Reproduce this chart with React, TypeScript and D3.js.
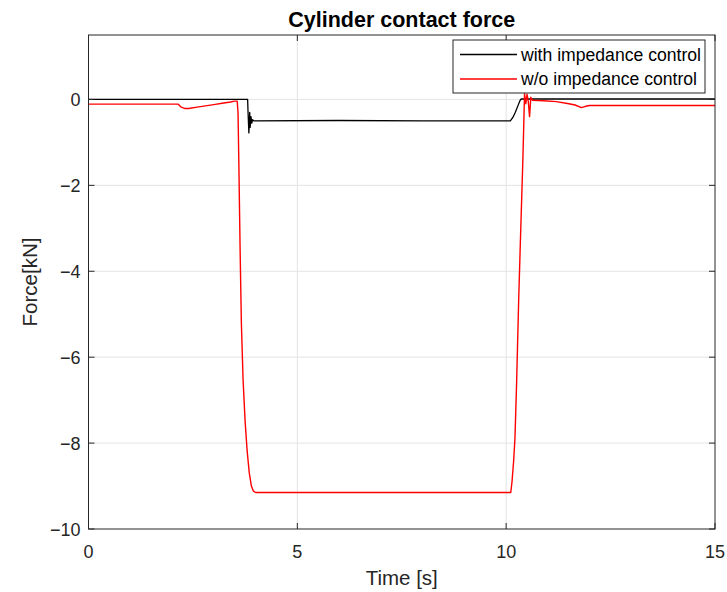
import React from "react";
import * as d3 from "d3";

// Cylinder contact force, with and without impedance control
const withTime = [0, 3.81, 3.82, 3.84, 3.86, 3.87, 3.89, 3.91, 3.93, 3.96, 6.0, 8.0, 10.1, 10.16, 10.22, 10.28, 10.33, 10.36, 12.0, 15];
const withForce = [0, 0, -0.3, -0.78, -0.3, -0.65, -0.4, -0.55, -0.47, -0.5, -0.49, -0.5, -0.5, -0.42, -0.3, -0.15, -0.03, 0.01, 0.01, 0.01];

const woTime = [
  0, 2.15, 2.22, 2.3, 2.4, 2.6, 2.8, 3.0, 3.2, 3.4, 3.5, 3.56, 3.58, 3.6, 3.63, 3.66, 3.7, 3.75, 3.8, 3.85, 3.9,
  3.95, 4.0, 7.0, 10.11, 10.14, 10.18, 10.21, 10.25, 10.3, 10.35, 10.4, 10.44, 10.47, 10.5, 10.53, 10.56, 10.59,
  10.63, 10.9, 11.2, 11.5, 11.65, 11.8, 11.9, 12.0, 13.0, 15,
];
const woForce = [
  -0.11, -0.11, -0.18, -0.21, -0.21, -0.18, -0.15, -0.12, -0.09, -0.06, -0.04, -0.04, -0.3, -1.5, -3.5, -5.2, -6.5,
  -7.5, -8.2, -8.7, -9.0, -9.12, -9.15, -9.15, -9.15, -8.9, -8.4, -7.9, -6.6, -4.65, -3.0, -1.4, 0.14, -0.1, 0.12,
  -0.05, -0.4, 0.05, -0.02, -0.03, -0.05, -0.1, -0.13, -0.19, -0.16, -0.14, -0.14, -0.14,
];

const xTicks = [0, 5, 10, 15];
const yTicks = [0, -2, -4, -6, -8, -10];

const seriesNames = ["with impedance control", "w/o impedance control"];
const seriesColors = ["#000000", "#ff0000"];

const W = 727;
const H = 592;
const M = { left: 88.5, right: 715, top: 35, bottom: 529 };
const FONT = "'Liberation Sans', Arial, Helvetica, sans-serif";
const AXIS = "#262626";

export default function App() {
  const x = d3.scaleLinear().domain([0, 15]).range([M.left, M.right]);
  const y = d3.scaleLinear().domain([-10, 1.5]).range([M.bottom, M.top]);

  const line = d3
    .line<[number, number]>()
    .x((d) => x(d[0]))
    .y((d) => y(d[1]));

  const withPts = withTime.map((t, i) => [t, withForce[i]] as [number, number]);
  const woPts = woTime.map((t, i) => [t, woForce[i]] as [number, number]);

  const tickLen = 6;
  const fmt = (v: number) => (v < 0 ? "\u2212" + Math.abs(v) : String(v));

  const legX = 453;
  const legY = 40;
  const legW = 252;
  const legH = 53;

  return (
    <svg
      width={W}
      height={H}
      style={{ position: "absolute", left: 0, top: 0, display: "block", background: "#fff" }}
      fontFamily={FONT}
    >
      <rect x={0} y={0} width={W} height={H} fill="#fff" />
      {/* grid */}
      <g stroke="#e3e3e3" strokeWidth={1}>
        {xTicks.slice(1, -1).map((t) => (
          <line key={"gx" + t} x1={x(t)} x2={x(t)} y1={M.top} y2={M.bottom} />
        ))}
        {yTicks.slice(0, -1).map((t) => (
          <line key={"gy" + t} x1={M.left} x2={M.right} y1={y(t)} y2={y(t)} />
        ))}
      </g>

      {/* data */}
      <g fill="none" strokeLinejoin="round">
        <path d={line(withPts) ?? ""} stroke={seriesColors[0]} strokeWidth={1.3} />
        <path d={line(woPts) ?? ""} stroke={seriesColors[1]} strokeWidth={1.4} />
      </g>

      {/* axes box and ticks */}
      <rect
        x={M.left}
        y={M.top}
        width={M.right - M.left}
        height={M.bottom - M.top}
        fill="none"
        stroke={AXIS}
        strokeWidth={1}
      />
      <g stroke={AXIS} strokeWidth={1}>
        {xTicks.map((t) => (
          <g key={"xt" + t}>
            <line x1={x(t)} x2={x(t)} y1={M.bottom} y2={M.bottom - tickLen} />
            <line x1={x(t)} x2={x(t)} y1={M.top} y2={M.top + tickLen} />
          </g>
        ))}
        {yTicks.map((t) => (
          <g key={"yt" + t}>
            <line x1={M.left} x2={M.left + tickLen} y1={y(t)} y2={y(t)} />
            <line x1={M.right} x2={M.right - tickLen} y1={y(t)} y2={y(t)} />
          </g>
        ))}
      </g>
      <g fontSize={18} fill={AXIS}>
        {xTicks.map((t) => (
          <text key={"xl" + t} x={x(t)} y={M.bottom + 29} textAnchor="middle">
            {fmt(t)}
          </text>
        ))}
        {yTicks.map((t) => (
          <text key={"yl" + t} x={M.left - 8} y={y(t) + 7} textAnchor="end">
            {fmt(t)}
          </text>
        ))}
      </g>

      {/* labels */}
      <text x={(M.left + M.right) / 2} y={27} textAnchor="middle" fontSize={21.5} fontWeight="bold" fill="#000">
        Cylinder contact force
      </text>
      <text x={(M.left + M.right) / 2} y={585} textAnchor="middle" fontSize={20.5} fill={AXIS}>
        Time [s]
      </text>
      <text
        transform={`translate(37, ${(M.top + M.bottom) / 2}) rotate(-90)`}
        textAnchor="middle"
        fontSize={20.5}
        fill={AXIS}
      >
        Force[kN]
      </text>

      {/* legend */}
      <g>
        <rect x={legX} y={legY} width={legW} height={legH} fill="#fff" stroke={AXIS} strokeWidth={1} />
        {seriesNames.map((name, i) => {
          const ly = legY + 14.5 + i * 24.5;
          return (
            <g key={name}>
              <line x1={legX + 7} x2={legX + 64} y1={ly} y2={ly} stroke={seriesColors[i]} strokeWidth={1.3} />
              <text x={legX + 68} y={ly + 6} fontSize={17.6} fill="#000">
                {name}
              </text>
            </g>
          );
        })}
      </g>
    </svg>
  );
}
